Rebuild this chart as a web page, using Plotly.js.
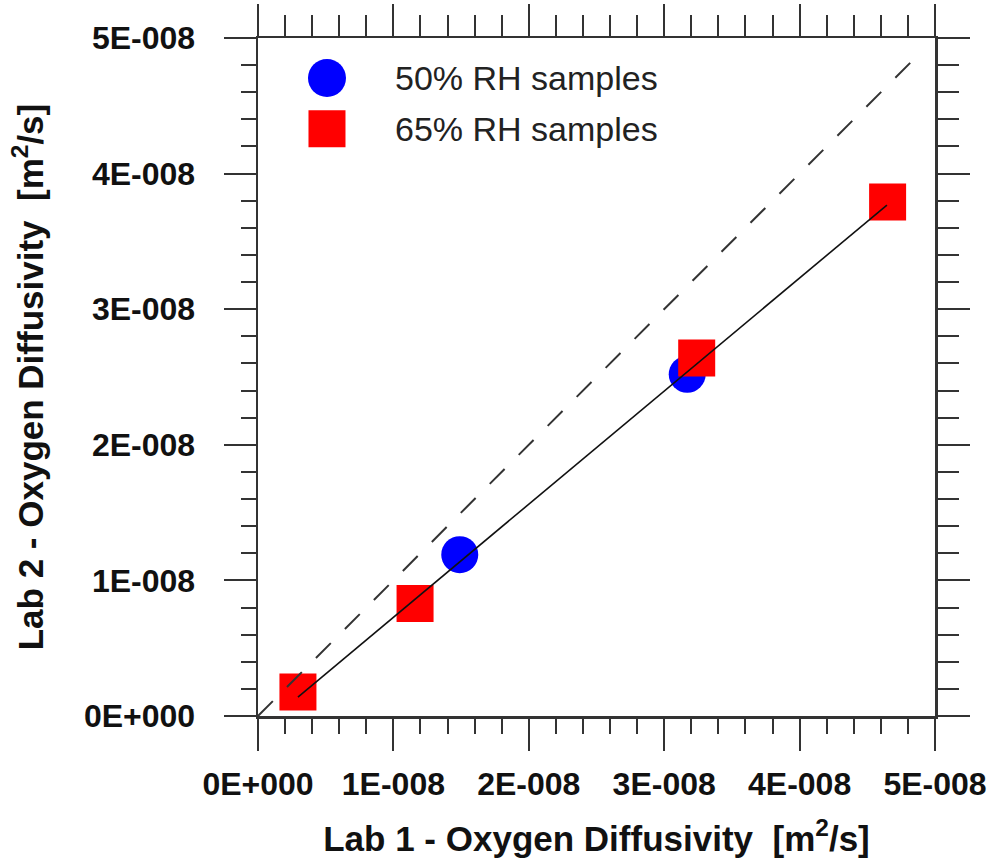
<!DOCTYPE html>
<html>
<head>
<meta charset="utf-8">
<script src="https://cdn.plot.ly/plotly-3.0.1.min.js"></script>
<style>html,body{margin:0;padding:0;background:#fff;}#chart{width:998px;height:864px;}</style>
</head>
<body>
<div id="chart"></div>
<script>
// ---- data (m^2/s) ----
const rh50X = [1.49e-8, 3.17e-8];
const rh50Y = [1.19e-8, 2.52e-8];
const rh65X = [0.295e-8, 1.16e-8, 3.24e-8, 4.65e-8];
const rh65Y = [0.177e-8, 0.83e-8, 2.64e-8, 3.79e-8];
const fitX = [0.295e-8, 4.645e-8];
const fitY = [0.14e-8, 3.768e-8];
const oneToOneX = [0, 4.87e-8];
const oneToOneY = [0, 4.87e-8];
const seriesNames = ['50% RH samples', '65% RH samples'];
const tickVals = [0, 1e-8, 2e-8, 3e-8, 4e-8, 5e-8];
const tickText = ['0E+000', '1E-008', '2E-008', '3E-008', '4E-008', '5E-008'];
const xTitle = 'Lab 1 - Oxygen Diffusivity  [m<sup>2</sup>/s]';
const yTitle = 'Lab 2 - Oxygen Diffusivity  [m<sup>2</sup>/s]';

const axisColor = '#333333';
const FONT = '"Liberation Sans", Arial, sans-serif';

const traces = [
  {x: rh50X, y: rh50Y, mode: 'markers', name: seriesNames[0], showlegend: false,
   marker: {symbol: 'circle', size: 37, color: '#0000ff'}},
  {x: rh65X, y: rh65Y, mode: 'markers', name: seriesNames[1], showlegend: false,
   marker: {symbol: 'square', size: 37, color: '#ff0000'}},
  {x: oneToOneX, y: oneToOneY, xaxis: 'x2', yaxis: 'y2', mode: 'lines', showlegend: false,
   line: {color: '#333333', width: 2, dash: '21px,20px'}, hoverinfo: 'skip'},
  {x: fitX, y: fitY, xaxis: 'x2', yaxis: 'y2', mode: 'lines', showlegend: false,
   line: {color: '#111111', width: 1.6}, hoverinfo: 'skip'}
];

const baseAxis = {
  range: [0, 5e-8], autorange: false, showgrid: false, zeroline: false,
  showline: true, linecolor: axisColor, linewidth: 2.5,
  ticks: 'outside', ticklen: 32, tickwidth: 2, tickcolor: axisColor,
  tickmode: 'array', tickvals: tickVals, ticktext: tickText,
  tickfont: {family: FONT, size: 32, weight: 700, color: '#111111'},
  minor: {ticks: 'outside', ticklen: 15, tickwidth: 2, tickcolor: axisColor, dtick: 0.2e-8, tick0: 0, showgrid: false}
};

const titleFont = {family: FONT, size: 35, weight: 700, color: '#111111'};

const layout = {
  width: 998, height: 864,
  margin: {l: 258, r: 63, t: 38, b: 148, pad: 0},
  paper_bgcolor: '#ffffff', plot_bgcolor: '#ffffff',
  showlegend: false,
  font: {family: FONT, color: '#111111'},
  xaxis: Object.assign({}, baseAxis, {
    ticklabelstandoff: 6, automargin: true,
    title: {text: xTitle, font: titleFont, standoff: 26}
  }),
  yaxis: Object.assign({}, baseAxis, {
    ticklabelstandoff: 22, automargin: true,
    title: {text: yTitle, font: titleFont, standoff: 30}
  }),
  xaxis2: Object.assign({}, baseAxis, {
    overlaying: 'x', matches: 'x', side: 'top', anchor: 'y2', showticklabels: false,
    minor: Object.assign({}, baseAxis.minor, {ticklen: 21})
  }),
  yaxis2: Object.assign({}, baseAxis, {
    overlaying: 'y', matches: 'y', side: 'right', anchor: 'x2', showticklabels: false,
    minor: Object.assign({}, baseAxis.minor, {ticklen: 21})
  }),
  shapes: [
    {type: 'circle', xref: 'paper', yref: 'paper', xsizemode: 'pixel', ysizemode: 'pixel',
     xanchor: 0.1019, yanchor: 0.941, x0: -19, x1: 19, y0: -19, y1: 19,
     fillcolor: '#0000ff', line: {width: 0}},
    {type: 'rect', xref: 'paper', yref: 'paper', xsizemode: 'pixel', ysizemode: 'pixel',
     xanchor: 0.1019, yanchor: 0.866, x0: -18.5, x1: 18.5, y0: -18.5, y1: 18.5,
     fillcolor: '#ff0000', line: {width: 0}}
  ],
  annotations: [
    {xref: 'paper', yref: 'paper', x: 0.1994, y: 0.941, xanchor: 'left', yanchor: 'middle',
     text: seriesNames[0], showarrow: false, font: {family: FONT, size: 34, color: '#222222'}},
    {xref: 'paper', yref: 'paper', x: 0.1994, y: 0.866, xanchor: 'left', yanchor: 'middle',
     text: seriesNames[1], showarrow: false, font: {family: FONT, size: 34, color: '#222222'}}
  ]
};

Plotly.newPlot('chart', traces, layout, {displayModeBar: false, staticPlot: true});
</script>
</body>
</html>
